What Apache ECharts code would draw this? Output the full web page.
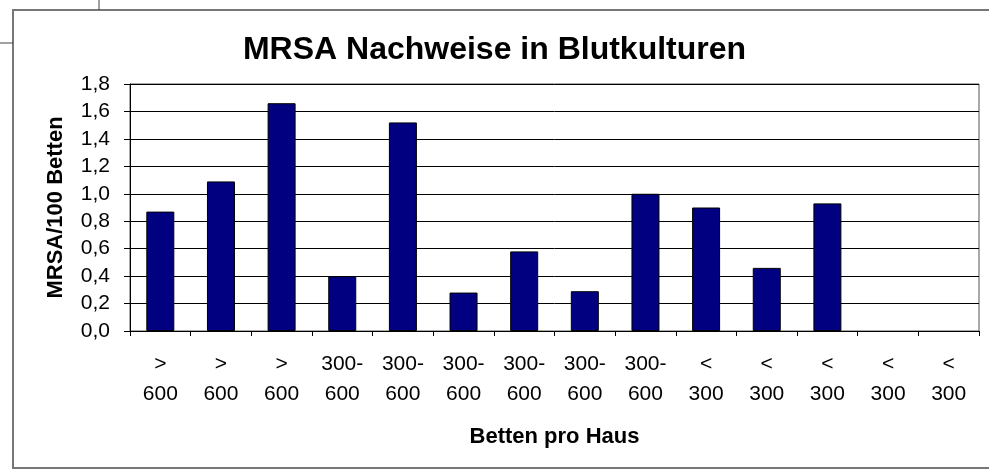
<!DOCTYPE html>
<html>
<head>
<meta charset="utf-8">
<script src="https://cdn.jsdelivr.net/npm/echarts@6/dist/echarts.min.js"></script>
<style>
  html, body { margin: 0; padding: 0; background: #fff; }
  #chart { width: 989px; height: 473px; }
</style>
</head>
<body>
<div id="chart"></div>
<script>
// Betten pro Haus (Kategorien)
var categories = ['>\n600', '>\n600', '>\n600', '300-\n600', '300-\n600', '300-\n600', '300-\n600',
  '300-\n600', '300-\n600', '<\n300', '<\n300', '<\n300', '<\n300', '<\n300']
// MRSA/100 Betten (last two houses: no bar)
var mrsaValues = [0.87, 1.09, 1.66, 0.40, 1.52, 0.28, 0.58, 0.29, 1.00, 0.90, 0.46, 0.93, null, null]
var yMin = 0
var yMax = 1.8
var yStep = 0.2

var chart = echarts.init(document.getElementById('chart'))
chart.setOption({
  animation: false,
  backgroundColor: '#fff',
  textStyle: { fontFamily: 'Liberation Sans, Arial, sans-serif' },
  title: {
    text: 'MRSA Nachweise in Blutkulturen',
    left: 'center',
    top: 29,
    textStyle: { fontSize: 32, fontWeight: 'bold', color: '#000', fontFamily: 'Liberation Sans' }
  },
  grid: { // plot area
    left: 130,
    right: 10,
    top: 84,
    bottom: 142,
    show: true,
    borderColor: '#555',
    borderWidth: 1
  },
  xAxis: {
    type: 'category',
    data: categories,
    name: 'Betten pro Haus',
    nameLocation: 'middle',
    nameGap: 95,
    nameTextStyle: { fontSize: 22, fontWeight: 'bold', color: '#000' },
    axisLine: { lineStyle: { color: '#000', width: 1 } },
    axisTick: { show: true, length: 5, lineStyle: { color: '#000' } },
    axisLabel: { fontSize: 21, color: '#000', lineHeight: 30, margin: 18, interval: 0 }
  },
  yAxis: {
    type: 'value',
    min: yMin,
    max: yMax,
    interval: yStep,
    name: 'MRSA/100 Betten',
    nameLocation: 'middle',
    nameGap: 63,
    nameTextStyle: { fontSize: 22, fontWeight: 'bold', color: '#000' },
    axisLine: { show: true, lineStyle: { color: '#000', width: 1 } },
    axisTick: { show: true, length: 6, lineStyle: { color: '#000' } },
    axisLabel: {
      fontSize: 21,
      color: '#000',
      margin: 20,
      formatter: function (v) { return v.toFixed(1).replace('.', ',') }
    },
    splitLine: { lineStyle: { color: '#000', width: 1 } }
  },
  series: [
    {
      type: 'bar',
      data: mrsaValues,
      barWidth: 28,
      itemStyle: { color: '#000080', borderColor: '#000', borderWidth: 1 }
    }
  ],
  graphic: [
    // outer frame of the pasted chart
    { type: 'rect', shape: { x: 13, y: 10, width: 990, height: 458 }, style: { fill: null, stroke: '#777', lineWidth: 2 } },
    { type: 'line', shape: { x1: 99, y1: 0, x2: 99, y2: 10 }, style: { stroke: '#444', lineWidth: 1 } },
    { type: 'line', shape: { x1: 0, y1: 43, x2: 13, y2: 43 }, style: { stroke: '#444', lineWidth: 1 } }
  ]
})
</script>
</body>
</html>
